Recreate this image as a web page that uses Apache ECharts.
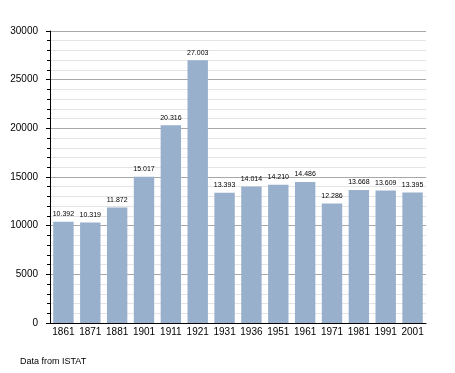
<!DOCTYPE html>
<html><head><meta charset="utf-8">
<script src="https://cdn.jsdelivr.net/npm/echarts@6/dist/echarts.min.js"></script>
<style>html,body{margin:0;padding:0;background:#fff}#c{width:455px;height:373px}</style>
</head><body><div id="c"></div>
<script>
const years = ['1861','1871','1881','1901','1911','1921','1931','1936','1951','1961','1971','1981','1991','2001'];
const population = [10392,10319,11872,15017,20316,27003,13393,14014,14210,14486,12286,13668,13609,13395];
const labels = ['10.392','10.319','11.872','15.017','20.316','27.003','13.393','14.014','14.210','14.486','12.286','13.668','13.609','13.395'];
const chart = echarts.init(document.getElementById('c'));
chart.setOption({
  animation:false,
  grid:{left:50,right:29,top:31,bottom:50,containLabel:false},
  xAxis:{type:'category',data:years,
    axisLine:{lineStyle:{color:'#000',width:1}},axisTick:{show:false},
    axisLabel:{color:'#000',fontSize:10,fontFamily:'Liberation Sans, Arial',margin:4,interval:0}},
  yAxis:{type:'value',min:0,max:30000,interval:5000,
    axisLine:{show:true,lineStyle:{color:'#000'}},
    axisTick:{show:true,length:4,lineStyle:{color:'#000'}},
    minorTick:{show:true,splitNumber:5,length:3,lineStyle:{color:'#000'}},
    splitLine:{lineStyle:{color:'#a8a8a8',width:1}},
    minorSplitLine:{show:true,lineStyle:{color:'#e4e4e4',width:1}},
    axisLabel:{color:'#000',fontSize:10,fontFamily:'Liberation Sans, Arial',margin:12,formatter:v=>String(v)}},
  series:[{type:'bar',data:population,barCategoryGap:'24%',
    itemStyle:{color:'#98b0cc'},
    label:{show:true,position:'top',distance:4,fontSize:7,color:'#000',fontFamily:'Liberation Sans, Arial',
      formatter:p=>labels[p.dataIndex]}}],
  graphic:[{type:'text',left:20,top:357,style:{text:'Data from ISTAT',fontSize:9,fill:'#000',fontFamily:'Liberation Sans, Arial'}}]
});
</script></body></html>
